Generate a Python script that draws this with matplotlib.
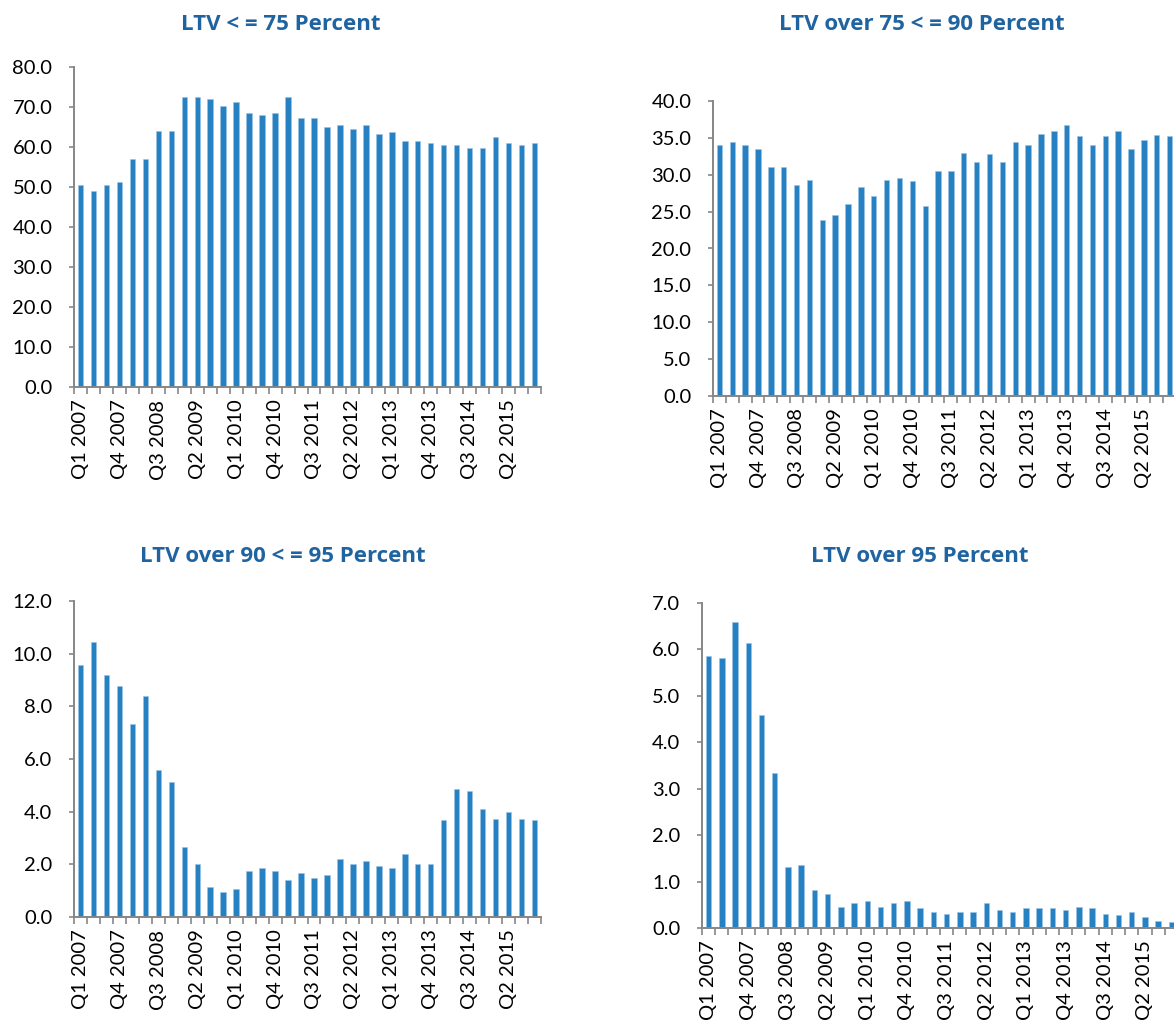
import matplotlib
matplotlib.use('Agg')
import matplotlib.pyplot as plt
import numpy as np

# Quarterly categories, Q1 2007 .. Q4 2015
years = list(range(2007, 2016))
quarters = ['Q%d %d' % (q, y) for y in years for q in range(1, 5)]

ltv_75 = [50.4, 49.0, 50.4, 51.2, 57.0, 57.0, 64.1, 64.1, 72.5, 72.5, 72.1, 70.3,
          71.2, 68.5, 68.1, 68.5, 72.5, 67.2, 67.2, 64.9, 65.4, 64.5, 65.4, 63.2,
          63.7, 61.4, 61.4, 60.9, 60.5, 60.5, 59.7, 59.7, 62.4, 60.9, 60.5, 60.9]
ltv_75_90 = [34.0, 34.5, 34.0, 33.5, 31.0, 31.0, 28.6, 29.3, 23.9, 24.6, 26.1, 28.3,
             27.1, 29.3, 29.5, 29.1, 25.8, 30.5, 30.5, 33.0, 31.7, 32.8, 31.7, 34.5,
             34.0, 35.5, 35.9, 36.7, 35.2, 34.0, 35.2, 35.9, 33.5, 34.7, 35.4, 35.2]
ltv_90_95 = [9.57, 10.45, 9.18, 8.78, 7.32, 8.38, 5.59, 5.12, 2.67, 2.0, 1.14, 0.94,
             1.07, 1.73, 1.87, 1.73, 1.40, 1.67, 1.48, 1.61, 2.2, 2.0, 2.14, 1.93,
             1.87, 2.40, 2.0, 2.0, 3.67, 4.86, 4.79, 4.12, 3.73, 4.0, 3.73, 3.67]
ltv_95 = [5.86, 5.82, 6.59, 6.13, 4.58, 3.33, 1.32, 1.36, 0.81, 0.74, 0.46, 0.54,
          0.58, 0.46, 0.54, 0.58, 0.43, 0.35, 0.31, 0.35, 0.35, 0.54, 0.39, 0.35,
          0.43, 0.43, 0.43, 0.39, 0.46, 0.43, 0.31, 0.28, 0.35, 0.23, 0.15, 0.12]

# title, values, y max, y step, axes box in pixels (left, right, top, bottom), title centre
panels = [
    ('LTV < = 75 Percent', ltv_75, 80, 10, (74, 541, 67, 387), (281, 25)),
    ('LTV over 75 < = 90 Percent', ltv_75_90, 40, 5, (713, 1176, 101, 396), (922, 25)),
    ('LTV over 90 < = 95 Percent', ltv_90_95, 12, 2, (74, 541, 601, 917), (283, 557)),
    ('LTV over 95 Percent', ltv_95, 7, 1, (702, 1178, 603, 928), (920, 557)),
]

W, H = 1174, 1023
fig = plt.figure(figsize=(W / 100, H / 100), dpi=100)
plt.rcParams['font.family'] = ['Lato', 'DejaVu Sans']

bar_color = '#2681C2'
axis_color = '#868686'
title_color = '#1F64A0'

x = np.arange(len(quarters))
for title, vals, ymax, ystep, (l, r, t, b), (tx, ty) in panels:
    ax = fig.add_axes([l / W, 1 - b / H, (r - l) / W, (b - t) / H])
    ax.bar(x, vals, width=0.42, color=bar_color, edgecolor='#9CC3E4', linewidth=0.4)
    ax.set_xlim(-0.5, len(quarters) - 0.5)
    ax.set_ylim(0, ymax)
    yt = np.arange(0, ymax + ystep / 2, ystep)
    ax.set_yticks(yt)
    ax.set_yticklabels(['%.1f' % v for v in yt])
    # tick marks on category boundaries, labels on every third category
    ax.set_xticks(np.arange(-0.5, len(quarters), 1.0))
    ax.set_xticklabels([])
    ax.set_xticks(x[::3], minor=True)
    ax.set_xticklabels(quarters[::3], minor=True, rotation=90, fontsize=14.5)
    ax.tick_params(axis='x', which='minor', length=0, pad=9)
    ax.tick_params(axis='x', which='major', length=5, width=1.2, color=axis_color)
    ax.tick_params(axis='y', length=3.5, width=1.2, color=axis_color, pad=12, labelsize=14.5)
    for s in ['top', 'right']:
        ax.spines[s].set_visible(False)
    for s in ['left', 'bottom']:
        ax.spines[s].set_color(axis_color)
        ax.spines[s].set_linewidth(1.4)
    fig.text(tx / W, 1 - ty / H, title, ha='center', va='center', fontsize=16,
             fontweight='bold', color=title_color, family=['Open Sans', 'DejaVu Sans'])

fig.savefig('out.png', dpi=100)
